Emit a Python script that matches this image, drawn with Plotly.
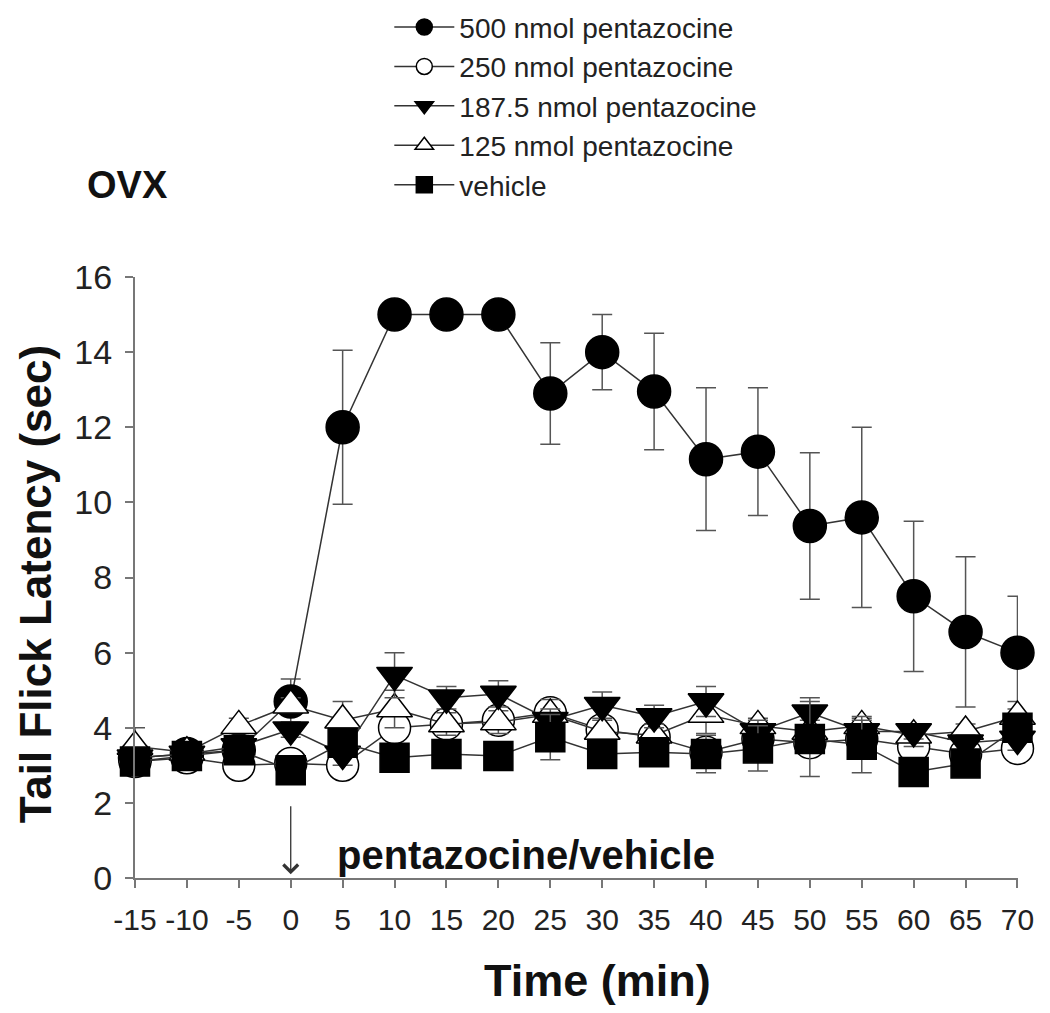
import plotly.graph_objects as go

time = [-15, -10, -5, 0, 5, 10, 15, 20, 25, 30, 35, 40, 45, 50, 55, 60, 65, 70]

p500 = [3.2, 3.3, 3.4, 4.7, 12.0, 15.0, 15.0, 15.0, 12.9, 14.0, 12.95, 11.15, 11.35, 9.37, 9.6, 7.5, 6.55, 6.0]
e500 = [0.2, 0.2, 0.2, 0.6, 2.05, 0, 0, 0, 1.35, 1.0, 1.55, 1.9, 1.7, 1.95, 2.4, 2.0, 2.0, 1.5]

p250 = [3.1, 3.2, 3.0, 3.05, 3.0, 4.0, 4.1, 4.2, 4.4, 3.95, 3.75, 3.35, 3.7, 3.6, 3.7, 3.5, 3.3, 3.45]
e250 = [0.2, 0.2, 0.2, 0.2, 0.2, 0.3, 0.2, 0.2, 0.3, 0.2, 0.2, 0.2, 0.2, 0.2, 0.2, 0.2, 0.2, 0.2]

p187 = [3.2, 3.3, 3.5, 3.95, 3.3, 5.4, 4.8, 4.9, 4.2, 4.6, 4.3, 4.7, 3.9, 4.4, 3.9, 3.9, 3.6, 3.7]
e187 = [0.2, 0.2, 0.2, 0.2, 0.3, 0.6, 0.3, 0.35, 0.3, 0.35, 0.3, 0.4, 0.3, 0.4, 0.3, 0.2, 0.2, 0.3]

p125 = [3.5, 3.35, 4.05, 4.6, 4.2, 4.5, 4.1, 4.15, 4.35, 3.9, 3.8, 4.35, 4.05, 3.9, 4.05, 3.8, 3.9, 4.3]
e125 = [0.5, 0.2, 0.2, 0.2, 0.5, 0.5, 0.3, 0.3, 0.4, 0.3, 0.3, 0.5, 0.2, 0.3, 0.2, 0.3, 0.2, 0.4]

pveh = [3.1, 3.25, 3.4, 2.87, 3.6, 3.2, 3.3, 3.25, 3.75, 3.3, 3.35, 3.3, 3.45, 3.7, 3.55, 2.82, 3.05, 4.0]
eveh = [0.2, 0.2, 0.2, 0.2, 0.2, 0.2, 0.2, 0.2, 0.6, 0.2, 0.2, 0.5, 0.6, 1.0, 0.75, 0.2, 0.2, 0.3]

x_ticks = [-15, -10, -5, 0, 5, 10, 15, 20, 25, 30, 35, 40, 45, 50, 55, 60, 65, 70]
y_ticks = [0, 2, 4, 6, 8, 10, 12, 14, 16]

FONT = "Liberation Sans, Arial, sans-serif"
LINE_C = "#333333"
ERR_C = "#555555"

# (name, values, errors, symbol, fill, size, legend rank) in drawing order
series = [
    ("500 nmol pentazocine", p500, e500, "circle", "black", 33, 1),
    ("250 nmol pentazocine", p250, e250, "circle", "white", 32, 2),
    ("125 nmol pentazocine", p125, e125, "triangle-up", "white", 31, 4),
    ("187.5 nmol pentazocine", p187, e187, "triangle-down", "black", 31, 3),
    ("vehicle", pveh, eveh, "square", "black", 29, 5),
]

fig = go.Figure()
for name, vals, errs, sym, fill, size, rank in series:
    fig.add_trace(go.Scatter(
        x=time, y=vals, name=name, mode="lines+markers",
        legendrank=rank,
        line=dict(color=LINE_C, width=1.5),
        marker=dict(symbol=sym, size=size, color=fill,
                    line=dict(color="black", width=1.5)),
        error_y=dict(type="data", array=errs, visible=True,
                     color=ERR_C, thickness=1.5, width=10),
        cliponaxis=False,
    ))

fig.update_layout(
    width=1034, height=997,
    margin=dict(l=127, r=24, t=269, b=127, autoexpand=False),
    plot_bgcolor="white", paper_bgcolor="white",
    font=dict(family=FONT, color="#222222", size=24),
    showlegend=True,
    legend=dict(
        x=0.288, y=1.457, xanchor="left", yanchor="top",
        font=dict(family=FONT, size=28, color="#222222"),
        itemwidth=60, tracegroupgap=0,
        bgcolor="rgba(0,0,0,0)",
    ),
    xaxis=dict(
        range=[-15, 70.05], tickvals=x_ticks, ticktext=[str(v) for v in x_ticks],
        showgrid=False, zeroline=False, showline=True,
        linecolor="#777777", linewidth=2,
        ticks="outside", ticklen=8, tickcolor="#777777", tickwidth=1.5,
        ticklabelstandoff=6,
        tickfont=dict(family=FONT, size=30, color="#222222"),
    ),
    yaxis=dict(
        range=[0, 16], tickvals=y_ticks,
        showgrid=False, zeroline=False, showline=True,
        linecolor="#777777", linewidth=2,
        ticks="outside", ticklen=8, tickcolor="#777777", tickwidth=1.5,
        ticklabelstandoff=6,
        tickfont=dict(family=FONT, size=34, color="#222222"),
    ),
)

# axis titles
fig.add_annotation(
    x=0.5235, y=-0.17, xref="paper", yref="paper", xanchor="center", yanchor="middle",
    text="<b>Time (min)</b>", showarrow=False,
    font=dict(family=FONT, size=45, color="#111111"),
)
fig.add_annotation(
    x=-0.113, y=0.489, xref="paper", yref="paper", xanchor="center", yanchor="middle",
    text="<b>Tail Flick Latency (sec)</b>", showarrow=False, textangle=-90,
    font=dict(family=FONT, size=44, color="#111111"),
)

fig.add_annotation(
    x=0, y=0.1, ax=0, ay=1.95, xref="x", yref="y", axref="x", ayref="y",
    text="", showarrow=True, arrowhead=4, arrowsize=2.2, arrowwidth=1.3,
    arrowcolor="#333333",
)
fig.add_annotation(
    x=4.25, y=0.62, xref="x", yref="y", xanchor="left", yanchor="middle",
    text="<b>pentazocine/vehicle</b>", showarrow=False,
    font=dict(family=FONT, size=40, color="#111111"),
)
fig.add_annotation(
    x=-0.057, y=1.153, xref="paper", yref="paper", xanchor="left", yanchor="middle",
    text="<b>OVX</b>", showarrow=False,
    font=dict(family=FONT, size=38, color="#111111"),
)

fig.write_html("out.html")
